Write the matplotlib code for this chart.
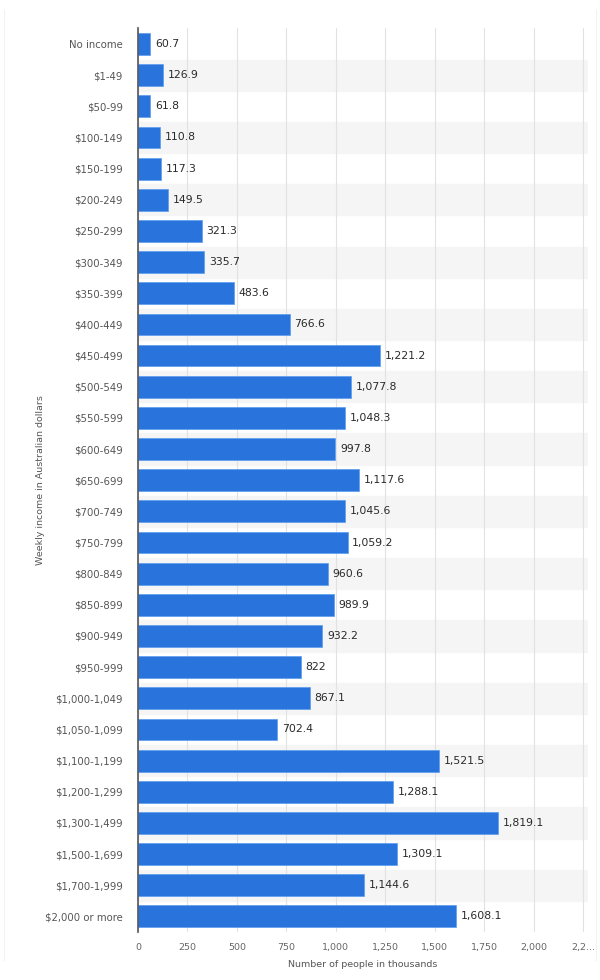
import numpy as np
import matplotlib.pyplot as plt

# Données : revenu hebdomadaire (AUD) et nombre de personnes (milliers)
categories = ["No income", "$1-49", "$50-99", "$100-149", "$150-199", "$200-249",
              "$250-299", "$300-349", "$350-399", "$400-449", "$450-499", "$500-549",
              "$550-599", "$600-649", "$650-699", "$700-749", "$750-799", "$800-849",
              "$850-899", "$900-949", "$950-999", "$1,000-1,049", "$1,050-1,099",
              "$1,100-1,199", "$1,200-1,299", "$1,300-1,499", "$1,500-1,699",
              "$1,700-1,999", "$2,000 or more"]
values = [60.7, 126.9, 61.8, 110.8, 117.3, 149.5, 321.3, 335.7, 483.6, 766.6,
          1221.2, 1077.8, 1048.3, 997.8, 1117.6, 1045.6, 1059.2, 960.6, 989.9,
          932.2, 822, 867.1, 702.4, 1521.5, 1288.1, 1819.1, 1309.1, 1144.6, 1608.1]
x_ticks = [0, 250, 500, 750, 1000, 1250, 1500, 1750, 2000, 2250]
x_tick_labels = ["0", "250", "500", "750", "1,000", "1,250", "1,500", "1,750", "2,000", "2,2..."]

fig = plt.figure(figsize=(6, 9.8), dpi=100)
ax = fig.add_axes([0.23, 0.049, 0.75, 0.922])

# cadre gris très léger autour de l'image
fig.add_artist(plt.Line2D([4 / 600, 4 / 600], [0.02, 0.99], color="#f3f3f3", lw=0.8))
fig.add_artist(plt.Line2D([596 / 600, 596 / 600], [0.02, 0.99], color="#f3f3f3", lw=0.8))

n = len(categories)
y = np.arange(n)

# bandes grises alternées
for i in range(1, n, 2):
    ax.axhspan(i - 0.5, i + 0.5, color="#f5f5f5", zorder=0)

ax.barh(y, values, height=0.7, color="#2873dc", edgecolor="#5a9cf0", linewidth=0.5, zorder=2)

for yi, v in zip(y, values):
    if v == int(v):
        lab = f"{int(v):,}"
    else:
        lab = f"{v:,.1f}"
    ax.text(v + 24, yi, lab, va="center", ha="left", fontsize=7.8, color="#2a2a2a", zorder=3)

ax.set_ylim(n - 0.5, -0.5)
ax.set_xlim(0, 2275)
ax.set_yticks(y)
ax.set_yticklabels(categories, fontsize=7.3, color="#555555")
ax.set_xticks(x_ticks)
ax.set_xticklabels(x_tick_labels, fontsize=6.8, color="#666666")
ax.tick_params(axis="both", length=0, pad=8)
ax.tick_params(axis="y", pad=11)
ax.xaxis.grid(True, color="#e2e2e2", linewidth=0.8, zorder=1)
ax.set_axisbelow(True)

for s in ["top", "right", "bottom"]:
    ax.spines[s].set_visible(False)
ax.spines["left"].set_color("#555555")
ax.spines["left"].set_linewidth(1.2)

ax.set_xlabel("Number of people in thousands", fontsize=6.8, color="#555555", labelpad=6)
ax.set_ylabel("Weekly income in Australian dollars", fontsize=6.8, color="#555555", labelpad=0)
ax.yaxis.set_label_coords(-0.207, 0.5)

fig.savefig("out.png", dpi=100)
